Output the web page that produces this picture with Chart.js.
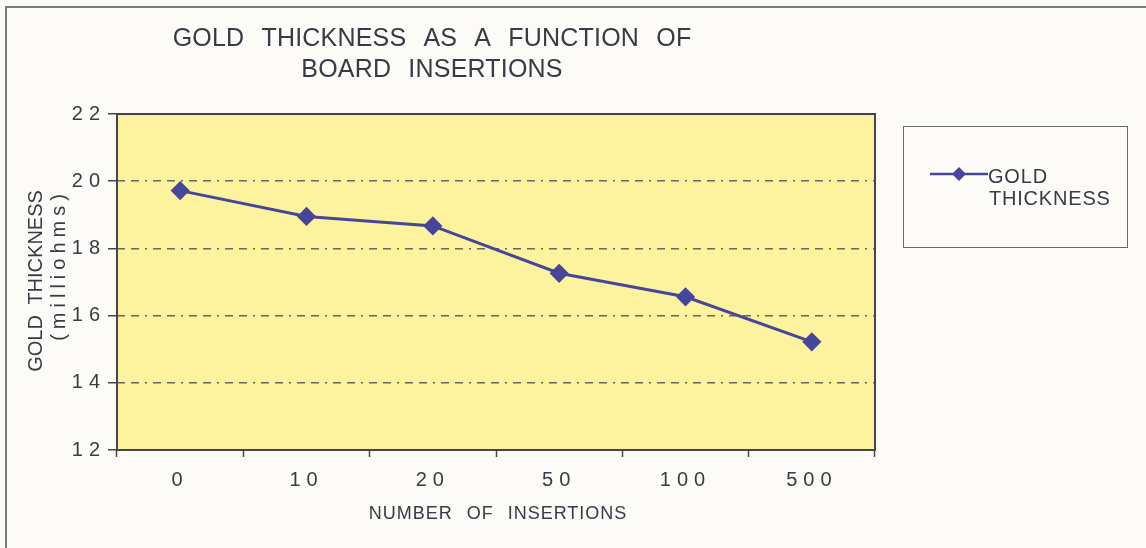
<!DOCTYPE html>
<html>
<head>
<meta charset="utf-8">
<script src="https://cdn.jsdelivr.net/npm/chart.js@4.4.1/dist/chart.umd.min.js"></script>
<style>
  html, body { margin: 0; padding: 0; background: #fcfbf7; }
  canvas { display: block; }
</style>
</head>
<body>
<canvas id="goldChart" width="1146" height="548"></canvas>
<script>
const insertions = ['0', '10', '20', '50', '100', '500'];
const goldThickness = [19.72, 18.95, 18.67, 17.26, 16.56, 15.22];
const yTicks = [12, 14, 16, 18, 20, 22];
const titleLines = ['GOLD THICKNESS AS A FUNCTION OF', 'BOARD INSERTIONS'];
const xTitle = 'NUMBER OF INSERTIONS';
const yTitle = ['GOLD THICKNESS', '(milliohms)'];
const seriesName = 'GOLD THICKNESS';

const textColor = '#3a3a46';
const lineColor = '#46469a';
const fontFamily = '"Liberation Sans", Arial, sans-serif';

// spaced-out digits on the tick labels (canvas state can reset, so set it each pass)
const spacing = {
    id: 'spacing',
    beforeUpdate(chart) { chart.ctx.letterSpacing = '6px'; },
    beforeLayout(chart) { chart.ctx.letterSpacing = '6px'; },
    beforeDraw(chart) { chart.ctx.letterSpacing = '6px'; }
};

const frame = {
    id: 'frame',
    beforeDraw(chart) {
        const ctx = chart.ctx;
        const a = chart.chartArea;
        ctx.save();
        ctx.fillStyle = '#fcfbf7';
        ctx.fillRect(0, 0, chart.width, chart.height);
        // outer frame (left + top only)
        ctx.strokeStyle = '#7a7a7a';
        ctx.lineWidth = 2;
        ctx.beginPath();
        ctx.moveTo(6, chart.height);
        ctx.lineTo(6, 7);
        ctx.lineTo(chart.width, 7);
        ctx.stroke();
        // plot background
        ctx.fillStyle = '#fdf39e';
        ctx.fillRect(a.left, a.top, a.right - a.left, a.bottom - a.top);
        ctx.restore();
    },
    afterDatasetsDraw(chart) {
        const ctx = chart.ctx;
        const a = chart.chartArea;
        ctx.save();
        ctx.strokeStyle = '#45454f';
        ctx.lineWidth = 2;
        ctx.strokeRect(a.left, a.top, a.right - a.left, a.bottom - a.top);
        ctx.restore();
    }
};

const texts = {
    id: 'texts',
    afterDraw(chart) {
        const ctx = chart.ctx;
        const a = chart.chartArea;
        ctx.save();
        ctx.fillStyle = textColor;

        // main title
        ctx.letterSpacing = '0.2px';
        ctx.wordSpacing = '10px';
        ctx.font = '25px ' + fontFamily;
        ctx.textAlign = 'center';
        ctx.textBaseline = 'middle';
        ctx.fillText(titleLines[0], 432, 39);
        ctx.fillText(titleLines[1], 432, 70);

        // x axis title
        ctx.letterSpacing = '1px';
        ctx.wordSpacing = '8px';
        ctx.font = '18px ' + fontFamily;
        ctx.fillText(xTitle, 498, 514);

        // y axis title, two rotated lines
        ctx.textBaseline = 'alphabetic';
        ctx.save();
        ctx.translate(42, 281);
        ctx.rotate(-Math.PI / 2);
        ctx.letterSpacing = '0px';
        ctx.wordSpacing = '5px';
        ctx.font = '20px ' + fontFamily;
        ctx.fillText(yTitle[0], 0, 0);
        ctx.restore();
        ctx.save();
        ctx.translate(65, 265);
        ctx.rotate(-Math.PI / 2);
        ctx.letterSpacing = '5px';
        ctx.wordSpacing = '0px';
        ctx.font = '20px ' + fontFamily;
        ctx.fillText(yTitle[1], 0, 0);
        ctx.restore();

        ctx.restore();
    }
};

const boxLegend = {
    id: 'boxLegend',
    afterDraw(chart) {
        const ctx = chart.ctx;
        const a = chart.chartArea;
        const x0 = a.right + 28, y0 = 126, w = 224, h = 121;
        ctx.save();
        ctx.fillStyle = '#fdfcf9';
        ctx.fillRect(x0, y0, w, h);
        ctx.strokeStyle = '#6a6a6a';
        ctx.lineWidth = 1;
        ctx.strokeRect(x0 + 0.5, y0 + 0.5, w, h);
        // sample line + diamond
        const ly = 174;
        ctx.strokeStyle = lineColor;
        ctx.lineWidth = 2.5;
        ctx.beginPath();
        ctx.moveTo(x0 + 27, ly);
        ctx.lineTo(x0 + 85, ly);
        ctx.stroke();
        ctx.fillStyle = lineColor;
        const cx = x0 + 56, r = 7;
        ctx.beginPath();
        ctx.moveTo(cx, ly - r);
        ctx.lineTo(cx + r, ly);
        ctx.lineTo(cx, ly + r);
        ctx.lineTo(cx - r, ly);
        ctx.closePath();
        ctx.fill();
        // text
        ctx.letterSpacing = '0.8px';
        ctx.fillStyle = textColor;
        ctx.font = '20px ' + fontFamily;
        ctx.textBaseline = 'middle';
        const words = seriesName.split(' ');
        ctx.fillText(words[0], x0 + 85, 177);
        ctx.fillText(words[1], x0 + 86, 199);
        ctx.restore();
    }
};

new Chart(document.getElementById('goldChart'), {
    type: 'line',
    data: {
        labels: insertions,
        datasets: [{
            label: seriesName,
            data: goldThickness,
            borderColor: lineColor,
            backgroundColor: lineColor,
            borderWidth: 3,
            pointStyle: 'rectRot',
            pointRadius: 7.5,
            pointHoverRadius: 7.5,
            tension: 0
        }]
    },
    options: {
        responsive: false,
        animation: false,
        layout: { padding: { top: 114, right: 271, left: 0, bottom: 0 } },
        plugins: {
            legend: { display: false },
            title: { display: false },
            tooltip: { enabled: false }
        },
        scales: {
            x: {
                offset: true,
                grid: {
                    offset: true,
                    drawOnChartArea: false,
                    tickLength: 7,
                    tickColor: '#45454f',
                    tickWidth: 1.5
                },
                border: { display: false },
                ticks: {
                    color: textColor,
                    font: { family: fontFamily, size: 20 },
                    padding: 11,
                    maxRotation: 0
                },
                afterFit(scale) { scale.height = 98; }
            },
            y: {
                min: 12,
                max: 22,
                afterBuildTicks(scale) { scale.ticks = yTicks.map(v => ({ value: v })); },
                grid: {
                    color: '#66665a',
                    lineWidth: 1.5,
                    tickLength: 9,
                    tickColor: '#45454f',
                    tickWidth: 1.5,
                    tickBorderDash: []
                },
                border: { display: false, dash: [8, 6, 8, 6, 2, 6] },
                ticks: {
                    color: textColor,
                    font: { family: fontFamily, size: 20 },
                    padding: 2
                },
                afterFit(scale) { scale.width = 117; }
            }
        }
    },
    plugins: [spacing, frame, texts, boxLegend]
});
</script>
</body>
</html>
